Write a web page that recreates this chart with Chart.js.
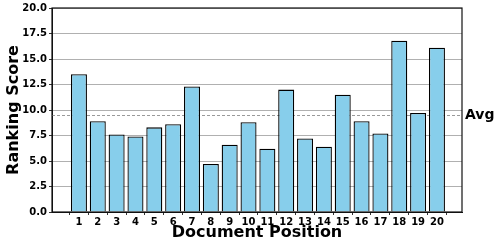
<!DOCTYPE html>
<html lang="en">
<head>
  <meta charset="UTF-8">
  <title>Ranking Score by Document Position</title>
  <script src="https://cdn.jsdelivr.net/npm/chart.js"></script>
  <style>
    html, body { margin: 0; padding: 0; background: #fff; }
    #wrap { width: 497px; height: 241px; }
  </style>
</head>
<body>
  <div id="wrap"><canvas id="rankChart" width="497" height="241"></canvas></div>

  <script>
    const positions = [1, 2, 3, 4, 5, 6, 7, 8, 9, 10, 11, 12, 13, 14, 15, 16, 17, 18, 19, 20];
    const scores = [13.5, 8.9, 7.6, 7.4, 8.3, 8.6, 12.3, 4.7, 6.6, 8.8, 6.2, 12.0, 7.2, 6.4, 11.5, 8.9, 7.7, 16.8, 9.7, 16.1];
    const yTicks = [0, 2.5, 5, 7.5, 10, 12.5, 15, 17.5, 20];

    const avg = scores.reduce((a, b) => a + b, 0) / scores.length;
    const font = "'DejaVu Sans', sans-serif";

    // frame around plot + dashed average line with label
    const extras = {
      id: "extras",
      beforeDatasetsDraw(chart) {
        const { ctx, chartArea: a, scales } = chart;
        const y = scales.y.getPixelForValue(avg);
        ctx.save();
        ctx.strokeStyle = "#999";
        ctx.lineWidth = 1;
        ctx.setLineDash([3, 2]);
        ctx.beginPath();
        ctx.moveTo(a.left, y);
        ctx.lineTo(a.right, y);
        ctx.stroke();
        ctx.restore();
      },
      afterDraw(chart) {
        const { ctx, chartArea: a, scales } = chart;
        ctx.save();
        ctx.strokeStyle = "#111";
        ctx.lineWidth = 1.2;
        ctx.strokeRect(a.left, a.top, a.right - a.left, a.bottom - a.top);
        ctx.fillStyle = "#000";
        ctx.font = "bold 14px " + font;
        ctx.textBaseline = "middle";
        ctx.fillText("Avg", a.right + 3, scales.y.getPixelForValue(avg));
        ctx.restore();
      }
    };

    new Chart(document.getElementById("rankChart"), {
      type: "bar",
      data: {
        datasets: [{
          data: positions.map((p, i) => ({ x: p, y: scores[i] })),
          backgroundColor: "#87ceeb",
          borderColor: "#000",
          borderWidth: 1.3,
          categoryPercentage: 1,
          barPercentage: 0.85
        }]
      },
      options: {
        responsive: false,
        animation: false,
        layout: { padding: { left: 0, right: 35, top: 8, bottom: 0 } },
        plugins: { legend: { display: false }, tooltip: { enabled: false } },
        scales: {
          x: {
            type: "linear",
            min: -0.43,
            max: 21.33,
            offset: false,
            afterBuildTicks: s => { s.ticks = positions.map(v => ({ value: v })); },
            afterFit: s => { s.height = 29; },
            grid: { drawOnChartArea: false, tickLength: 3, color: "#333" },
            border: { color: "#111" },
            ticks: { color: "#000", font: { family: font, weight: "bold", size: 10 }, padding: 1, maxRotation: 0, autoSkip: false },
            title: { display: true, text: "Document Position", color: "#000", font: { family: font, weight: "bold", size: 16, lineHeight: 1 }, padding: { top: 0, bottom: 0 } }
          },
          y: {
            min: 0,
            max: 20,
            afterBuildTicks: s => { s.ticks = yTicks.map(v => ({ value: v })); },
            afterFit: s => { s.width = 52; },
            grid: { color: "#b0b0b0", lineWidth: 1, tickLength: 3, tickColor: "#333" },
            border: { color: "#111" },
            ticks: { color: "#000", font: { family: font, weight: "bold", size: 10 }, padding: 2, callback: v => v.toFixed(1) },
            title: { display: true, text: "Ranking Score", color: "#000", font: { family: font, weight: "bold", size: 16 }, padding: { top: 4, bottom: 0 } }
          }
        }
      },
      plugins: [extras]
    });
  </script>
</body>
</html>
